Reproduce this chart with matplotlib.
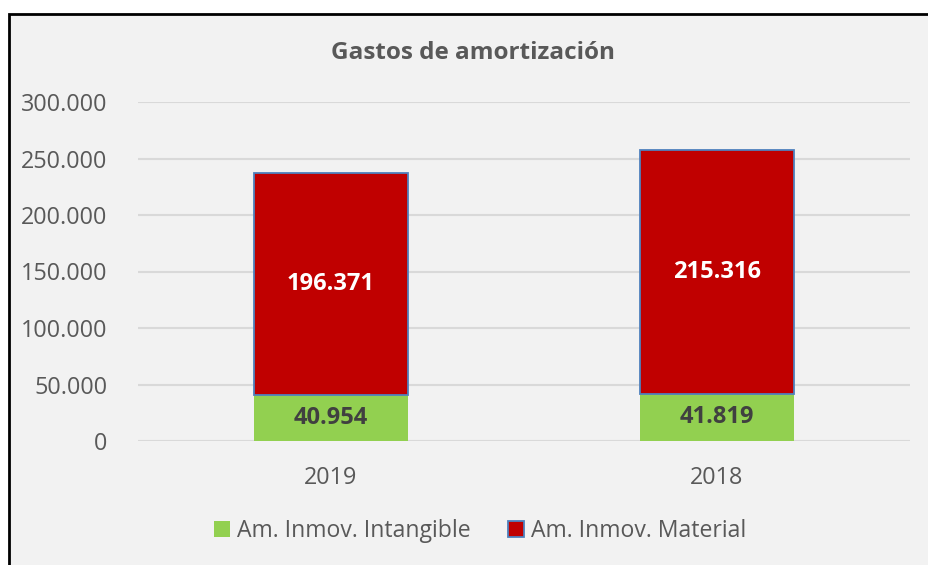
import matplotlib.pyplot as plt
from matplotlib.patches import Rectangle
from matplotlib.ticker import FuncFormatter

years = ["2019", "2018"]
intangible = [40954, 41819]
material = [196371, 215316]
y_ticks = [0, 50000, 100000, 150000, 200000, 250000, 300000]

plt.rcParams['font.family'] = ['Open Sans', 'DejaVu Sans']

BG = "#F2F2F2"
TXT = "#595959"
GREEN = "#92D050"
RED = "#C00000"


def miles(v, pos=None):
    return f"{int(v):,}".replace(",", ".")


fig = plt.figure(figsize=(9.29, 5.65), dpi=100)
fig.patch.set_facecolor("white")
# chart frame (left and top edges visible, rest cropped)
fig.patches.append(Rectangle((9 / 929, -0.02), 1.0, 1 - 14 / 565 + 0.02,
                             transform=fig.transFigure, facecolor=BG,
                             edgecolor="black", linewidth=2, zorder=-10))

ax = fig.add_axes([138 / 929, 1 - 441 / 565, (910 - 138) / 929, 339 / 565])
ax.set_zorder(2)
ax.set_facecolor(BG)

x = range(len(years))
ax.bar(x, intangible, width=0.40, color=GREEN, label="Am. Inmov. Intangible", zorder=3)
ax.bar(x, material, width=0.40, bottom=intangible, color=RED,
       edgecolor="#4F81BD", linewidth=1.3, label="Am. Inmov. Material", zorder=3)

for i in x:
    ax.text(i, intangible[i] / 2, miles(intangible[i]), ha="center", va="center",
            fontsize=17, fontweight="bold", color="#404040", zorder=4)
    ax.text(i, intangible[i] + material[i] / 2, miles(material[i]), ha="center",
            va="center", fontsize=17, fontweight="bold", color="white", zorder=4)

ax.set_xlim(-0.5, 1.5)
ax.set_ylim(0, 300000)
ax.set_yticks(y_ticks)
ax.yaxis.set_major_formatter(FuncFormatter(miles))
ax.set_xticks(list(x))
ax.set_xticklabels(years)
ax.grid(axis="y", color="#D9D9D9", linewidth=1.5, zorder=0)
ax.tick_params(axis="both", length=0, labelsize=16.8, colors=TXT)
ax.tick_params(axis="y", pad=22)
ax.tick_params(axis="x", pad=18)
for s in ax.spines.values():
    s.set_visible(False)

fig.text(473 / 929, 1 - 53 / 565, "Gastos de amortización", ha="center", va="center",
         fontsize=17.5, fontweight="bold", color=TXT)

fig.legend(loc="center", bbox_to_anchor=(480 / 929, 1 - 531 / 565), ncol=2,
           frameon=False, fontsize=16.6, labelcolor=TXT, handlelength=0.7,
           handleheight=0.7, handletextpad=0.3, columnspacing=1.6)

fig.savefig("out.png", dpi=100, facecolor=fig.get_facecolor())
